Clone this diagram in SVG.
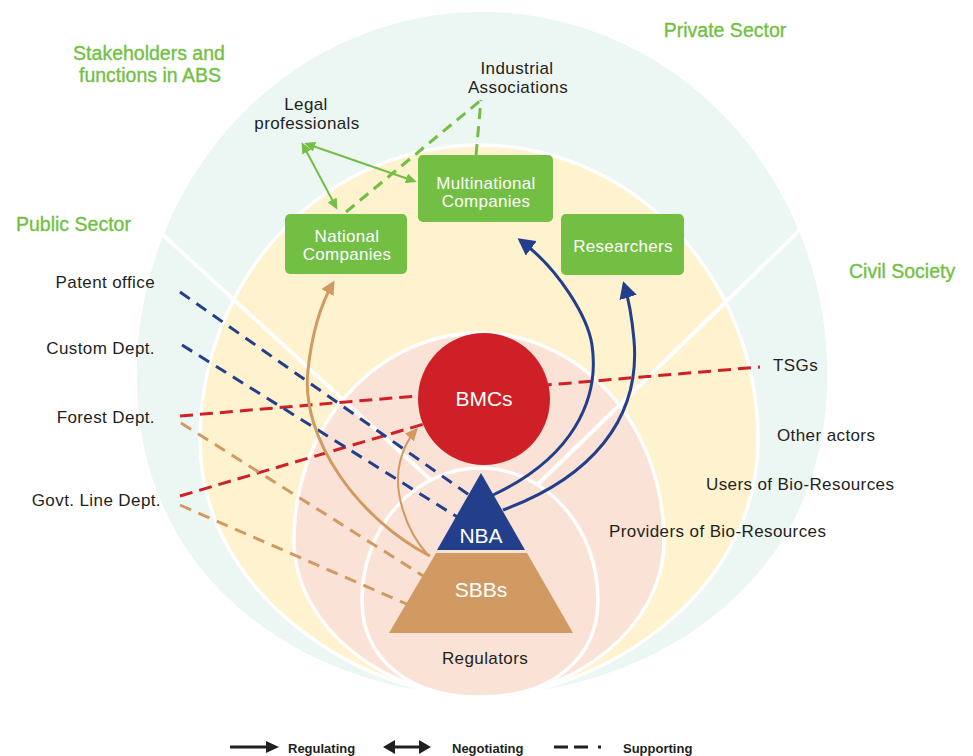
<svg xmlns="http://www.w3.org/2000/svg" width="973" height="756" viewBox="0 0 973 756">
  <style>
    text { font-family: "Liberation Sans", Arial, sans-serif; }
    .lbl { font-size: 17px; fill: #231F20; letter-spacing: 0.4px; }
    .ttl { font-size: 19.5px; fill: #72BF44; stroke: #72BF44; stroke-width: 0.35; }
    .box { fill: #72BF44; }
    .boxtxt { font-size: 17px; fill: #FFFFFF; text-anchor: middle; letter-spacing: 0.3px; }
    .big { font-size: 21px; fill: #FFFFFF; text-anchor: middle; }
    .leg { font-size: 13px; font-weight: bold; fill: #231F20; }
    .zone { stroke: #FFFFFF; stroke-width: 3.5; }
    .divider { stroke: #FFFFFF; stroke-width: 4; fill: none; }
    .reg-blue { fill: none; stroke: #233F8B; stroke-width: 3; }
    .reg-tan { fill: none; stroke: #D19A62; stroke-width: 3; }
    .reg-tan-thin { fill: none; stroke: #D19A62; stroke-width: 2; }
    .neg { fill: none; stroke: #72BF44; stroke-width: 2; }
    .sup-green { fill: none; stroke: #72BF44; stroke-width: 3; stroke-dasharray: 11 7; }
    .sup-blue { fill: none; stroke: #233F8B; stroke-width: 3; stroke-dasharray: 12 8; }
    .sup-red { fill: none; stroke: #D02027; stroke-width: 3; stroke-dasharray: 13 7; }
    .sup-tan { fill: none; stroke: #D19A62; stroke-width: 3; stroke-dasharray: 12 8; }
  </style>
  <defs>
    <marker id="head-blue" markerUnits="userSpaceOnUse" markerWidth="18" markerHeight="18" refX="14" refY="9" orient="auto">
      <path d="M0,0 L17,9 L0,18 Z" fill="#233F8B"/>
    </marker>
    <marker id="head-tan" markerUnits="userSpaceOnUse" markerWidth="15" markerHeight="14" refX="11" refY="7" orient="auto">
      <path d="M0,0 L14,7 L0,14 Z" fill="#D19A62"/>
    </marker>
    <marker id="head-tan-s" markerUnits="userSpaceOnUse" markerWidth="14" markerHeight="12" refX="10" refY="6" orient="auto">
      <path d="M0,0 L13,6 L0,12 Z" fill="#D19A62"/>
    </marker>
    <marker id="head-green" markerUnits="userSpaceOnUse" markerWidth="11" markerHeight="10" refX="8" refY="5" orient="auto-start-reverse">
      <path d="M0,0 L11,5 L0,10 Z" fill="#72BF44"/>
    </marker>
  </defs>

  <!-- nested stakeholder zones -->
  <g id="zones">
    <path id="zone-outer" class="zone" fill="#ECF6F2" d="M 480 697 C 330 697 135 600 135 375 A 347 365 0 0 1 829 375 C 829 600 630 697 480 697 Z"/>
    <path id="zone-actors" class="zone" fill="#FEF3CE" d="M 480 697 C 370 697 200 600 200 440 A 279 295 0 0 1 758 440 C 758 600 590 697 480 697 Z"/>
    <path id="zone-providers" class="zone" fill="#FAE2D6" d="M 480 697 C 390 697 294 630 294 540 A 185 207 0 0 1 664 540 C 664 630 570 697 480 697 Z"/>
    <line class="divider" x1="150" y1="223" x2="432" y2="481"/>
    <line class="divider" x1="803" y1="227" x2="533" y2="489"/>
    <path id="zone-regulators" class="zone" fill="#FAE2D6" d="M 480 697 C 410 697 362 660 362 600 A 118 132 0 0 1 598 600 C 598 660 550 697 480 697 Z"/>
  </g>

  <!-- connectors -->
  <g id="connectors">
    <!-- supporting -->
    <line class="sup-red" x1="180" y1="416" x2="760" y2="367"/>
    <line class="sup-red" x1="180" y1="496" x2="424" y2="424"/>
    <line class="sup-blue" x1="180" y1="292" x2="472" y2="497"/>
    <line class="sup-blue" x1="182" y1="345" x2="462" y2="520"/>
    <line class="sup-tan" x1="181" y1="423" x2="425" y2="577"/>
    <line class="sup-tan" x1="180" y1="505" x2="409" y2="605"/>
    <line class="sup-green" x1="346" y1="212" x2="481" y2="100"/>
    <line class="sup-green" x1="476" y1="155" x2="481" y2="100"/>
    <!-- negotiating -->
    <line class="neg" x1="303" y1="145" x2="336" y2="207" marker-start="url(#head-green)" marker-end="url(#head-green)"/>
    <line class="neg" x1="307" y1="144" x2="414" y2="181" marker-start="url(#head-green)" marker-end="url(#head-green)"/>
    <!-- regulating -->
    <path class="reg-tan" d="M 430 556 C 360 520, 300 440, 308 370 C 312 332, 321 304, 333 283" marker-end="url(#head-tan)"/>
    <path class="reg-tan-thin" d="M 428 555 C 405 530, 393 490, 400 462 C 403 449, 408 439, 416 430" marker-end="url(#head-tan-s)"/>
    <path class="reg-blue" d="M 493 495 C 572 458, 600 400, 592 345 C 588 318, 560 270, 520 240" marker-end="url(#head-blue)"/>
    <path class="reg-blue" d="M 503 510 C 590 478, 641 420, 634 340 C 632 318, 629 300, 624 284" marker-end="url(#head-blue)"/>
  </g>

  <!-- nodes -->
  <g id="node-bmcs">
    <circle cx="484" cy="399" r="66" fill="#D02027"/>
    <text class="big" x="484" y="406">BMCs</text>
  </g>
  <g id="node-nba">
    <path d="M 481 473 L 525 550 L 437 550 Z" fill="#233F8B"/>
    <text class="big" x="481" y="543">NBA</text>
  </g>
  <g id="node-sbbs">
    <path d="M 436 553 L 527 553 L 573 633 L 389 633 Z" fill="#D19A62"/>
    <text class="big" x="481" y="597">SBBs</text>
  </g>
  <g id="node-national">
    <rect class="box" x="285" y="214" width="122" height="60" rx="5"/>
    <text class="boxtxt" x="347" y="242">National</text>
    <text class="boxtxt" x="347" y="260">Companies</text>
  </g>
  <g id="node-multinational">
    <rect class="box" x="418" y="155" width="135" height="67" rx="5"/>
    <text class="boxtxt" x="486" y="189">Multinational</text>
    <text class="boxtxt" x="486" y="207">Companies</text>
  </g>
  <g id="node-researchers">
    <rect class="box" x="561" y="214" width="123" height="61" rx="5"/>
    <text class="boxtxt" x="623" y="252">Researchers</text>
  </g>
  <g id="node-legal">
    <text class="lbl" x="306" y="110" text-anchor="middle">Legal</text>
    <text class="lbl" x="307" y="129" text-anchor="middle">professionals</text>
  </g>
  <g id="node-industrial">
    <text class="lbl" x="517" y="74" text-anchor="middle">Industrial</text>
    <text class="lbl" x="518" y="93" text-anchor="middle">Associations</text>
  </g>
  <g id="node-patent"><text class="lbl" x="155" y="288" text-anchor="end">Patent office</text></g>
  <g id="node-custom"><text class="lbl" x="155" y="354" text-anchor="end">Custom Dept.</text></g>
  <g id="node-forest"><text class="lbl" x="155" y="423" text-anchor="end">Forest Dept.</text></g>
  <g id="node-govt"><text class="lbl" x="161" y="506" text-anchor="end">Govt. Line Dept.</text></g>
  <g id="node-tsgs"><text class="lbl" x="773" y="371">TSGs</text></g>

  <!-- zone and sector labels -->
  <g id="labels">
    <text class="lbl" x="777" y="441">Other actors</text>
    <text class="lbl" x="706" y="490">Users of Bio-Resources</text>
    <text class="lbl" x="609" y="537">Providers of Bio-Resources</text>
    <text class="lbl" x="485" y="664" text-anchor="middle">Regulators</text>
    <text class="ttl" x="149" y="60" text-anchor="middle">Stakeholders and</text>
    <text class="ttl" x="150" y="82" text-anchor="middle">functions in ABS</text>
    <text class="ttl" x="725" y="37" text-anchor="middle">Private Sector</text>
    <text class="ttl" x="16" y="231">Public Sector</text>
    <text class="ttl" x="849" y="278">Civil Society</text>
  </g>

  <!-- legend -->
  <g id="legend">
    <line x1="230" y1="747" x2="268" y2="747" stroke="#231F20" stroke-width="3"/>
    <path d="M 266 741 L 279 747 L 266 753 Z" fill="#231F20"/>
    <text class="leg" x="288" y="753">Regulating</text>
    <line x1="392" y1="747" x2="422" y2="747" stroke="#231F20" stroke-width="3"/>
    <path d="M 383 747 L 395 740 L 395 754 Z" fill="#231F20"/>
    <path d="M 431 747 L 419 740 L 419 754 Z" fill="#231F20"/>
    <text class="leg" x="452" y="753">Negotiating</text>
    <path d="M 554 747 H 568 M 574 747 H 588 M 598 747 H 601" stroke="#231F20" stroke-width="3" fill="none"/>
    <text class="leg" x="623" y="753">Supporting</text>
  </g>
</svg>
